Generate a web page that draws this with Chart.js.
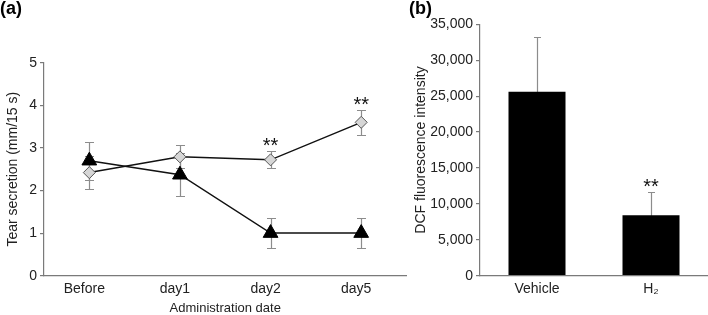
<!DOCTYPE html>
<html>
<head>
<meta charset="utf-8">
<script src="https://cdn.jsdelivr.net/npm/chart.js@4.4.1/dist/chart.umd.min.js"></script>
<style>
  html, body { margin: 0; padding: 0; background: #fff; }
  #wrap { position: relative; width: 708px; height: 315px; overflow: hidden; }
  .panel { position: absolute; top: 0; height: 315px; }
  #panelA { left: 0; width: 416px; }
  #panelB { left: 398px; width: 310px; }
</style>
</head>
<body>
<div id="wrap">
  <div class="panel" id="panelA"><canvas id="tearChart"></canvas></div>
  <div class="panel" id="panelB"><canvas id="dcfChart"></canvas></div>
</div>
<script>
// (a) tear secretion
const days = ['Before', 'day1', 'day2', 'day5'];
const h2Tear = [2.42, 2.79, 2.72, 3.6];
const h2TearErr = [0.38, 0.27, 0.2, 0.29];
const h2TearSig = ['', '', '**', '**'];
const controlTear = [2.7, 2.37, 1.0, 1.0];
const controlTearErr = [0.45, 0.5, 0.35, 0.35];
const tearTicks = [0, 1, 2, 3, 4, 5];

// (b) DCF fluorescence
const groups = ['Vehicle', 'H₂'];
const dcf = [25600, 8400];
const dcfErr = [7700, 3200];
const dcfSig = ['', '**'];
const dcfTicks = [0, 5000, 10000, 15000, 20000, 25000, 30000, 35000];

const FONT = '"Liberation Sans", Arial, sans-serif';
const TEXT = '#222';
const AXIS = '#7a7a7a';

// error bars + significance stars, positioned with the chart's own y scale
const errorBarPlugin = {
    id: 'errorBars',
    beforeDatasetsDraw(chart, args, opts) {
        const ctx = chart.ctx;
        const y = chart.scales.y;
        const half = opts.cap / 2;
        ctx.save();
        ctx.strokeStyle = opts.color;
        ctx.lineWidth = opts.width;
        chart.data.datasets.forEach((ds, di) => {
            if (!ds.errors) return;
            chart.getDatasetMeta(di).data.forEach((el, i) => {
                const x = Math.round(el.x) + 0.5;
                const top = Math.round(y.getPixelForValue(ds.data[i] + ds.errors[i])) + 0.5;
                const bottom = Math.round(y.getPixelForValue(ds.data[i] - ds.errors[i])) + 0.5;
                ctx.beginPath();
                ctx.moveTo(x, top); ctx.lineTo(x, bottom);
                ctx.moveTo(x - half, top); ctx.lineTo(x + half, top);
                ctx.moveTo(x - half, bottom); ctx.lineTo(x + half, bottom);
                ctx.stroke();
            });
        });
        ctx.restore();
    },
    afterDatasetsDraw(chart, args, opts) {
        const ctx = chart.ctx;
        const y = chart.scales.y;
        ctx.save();
        ctx.fillStyle = '#111';
        ctx.font = '20px ' + FONT;
        ctx.textAlign = 'center';
        ctx.textBaseline = 'alphabetic';
        chart.data.datasets.forEach((ds, di) => {
            if (!ds.sig) return;
            chart.getDatasetMeta(di).data.forEach((el, i) => {
                if (!ds.sig[i]) return;
                const top = y.getPixelForValue(ds.data[i] + ds.errors[i]);
                ctx.fillText(ds.sig[i], el.x, top + opts.starShift);
            });
        });
        ctx.restore();
    }
};

// Tear secretion chart (line)
new Chart(document.getElementById('tearChart'), {
    type: 'line',
    data: {
        labels: days,
        datasets: [{
            label: 'H2',
            data: h2Tear,
            errors: h2TearErr,
            sig: h2TearSig,
            borderColor: '#111',
            borderWidth: 1.5,
            pointStyle: 'rectRot',
            pointRadius: 6,
            pointBackgroundColor: '#d6d6d6',
            pointBorderColor: '#555',
            pointBorderWidth: 1
        }, {
            label: 'Control',
            data: controlTear,
            errors: controlTearErr,
            borderColor: '#111',
            borderWidth: 1.5,
            pointStyle: 'triangle',
            pointRadius: 8.5,
            pointBackgroundColor: '#000',
            pointBorderColor: '#000',
            pointBorderWidth: 1
        }]
    },
    options: {
        responsive: true,
        maintainAspectRatio: false,
        animation: false,
        layout: { padding: { left: 0, right: 4, top: 0, bottom: 0 } },
        plugins: {
            legend: { display: false },
            tooltip: { enabled: false },
            title: {
                display: true, text: '(a)', align: 'start', color: '#000',
                font: { family: FONT, size: 18, weight: 'bold', lineHeight: 1 },
                padding: { top: 0, bottom: 44.7 }
            },
            errorBars: { color: '#8c8c8c', width: 1.2, cap: 9, starShift: 1 }
        },
        scales: {
            x: {
                offset: true,
                grid: { display: false },
                border: { color: AXIS, width: 1.2 },
                ticks: { color: TEXT, font: { family: FONT, size: 14 }, padding: -3, labelOffset: -5 },
                title: { display: true, text: 'Administration date', color: TEXT, font: { family: FONT, size: 13, lineHeight: 1 }, padding: 0 },
                afterFit: s => { s.height = 39.3; }
            },
            y: {
                min: 0, max: 5,
                afterBuildTicks: s => { s.ticks = tearTicks.map(v => ({ value: v })); },
                grid: { drawOnChartArea: false, drawTicks: true, tickLength: 4, color: AXIS, lineWidth: 1.2 },
                border: { color: AXIS, width: 1.2 },
                ticks: { color: TEXT, font: { family: FONT, size: 14 }, padding: 3 },
                title: { display: true, text: 'Tear secretion (mm/15 s)', color: TEXT, font: { family: FONT, size: 14 }, padding: { top: 5, bottom: 0 } },
                afterFit: s => { s.width = 44; }
            }
        }
    },
    plugins: [errorBarPlugin]
});

// DCF fluorescence chart (bar)
new Chart(document.getElementById('dcfChart'), {
    type: 'bar',
    data: {
        labels: groups,
        datasets: [{
            label: 'DCF',
            data: dcf,
            errors: dcfErr,
            sig: dcfSig,
            backgroundColor: '#000',
            borderWidth: 0,
            barPercentage: 0.5,
            categoryPercentage: 1
        }]
    },
    options: {
        responsive: true,
        maintainAspectRatio: false,
        animation: false,
        layout: { padding: { left: 11, right: 0, top: 0, bottom: 0 } },
        plugins: {
            legend: { display: false },
            tooltip: { enabled: false },
            title: {
                display: true, text: '(b)', align: 'start', color: '#000',
                font: { family: FONT, size: 18, weight: 'bold', lineHeight: 1 },
                padding: { top: 0, bottom: 6.3 }
            },
            errorBars: { color: '#8c8c8c', width: 1.2, cap: 7, starShift: 1 }
        },
        scales: {
            x: {
                grid: { display: false },
                border: { color: AXIS, width: 1.2 },
                ticks: { color: TEXT, font: { family: FONT, size: 14 }, padding: -3 },
                afterFit: s => { s.height = 39.3; }
            },
            y: {
                min: 0, max: 35000,
                afterBuildTicks: s => { s.ticks = dcfTicks.map(v => ({ value: v })); },
                grid: { drawOnChartArea: false, drawTicks: true, tickLength: 4, color: AXIS, lineWidth: 1.2 },
                border: { color: AXIS, width: 1.2 },
                ticks: {
                    color: TEXT, font: { family: FONT, size: 14 }, padding: 3,
                    callback: v => v.toLocaleString('en-US')
                },
                title: { display: true, text: 'DCF fluorescence intensity', color: TEXT, font: { family: FONT, size: 14 }, padding: { top: 4, bottom: 0 } },
                afterFit: s => { s.width = 71; }
            }
        }
    },
    plugins: [errorBarPlugin]
});
</script>
</body>
</html>
